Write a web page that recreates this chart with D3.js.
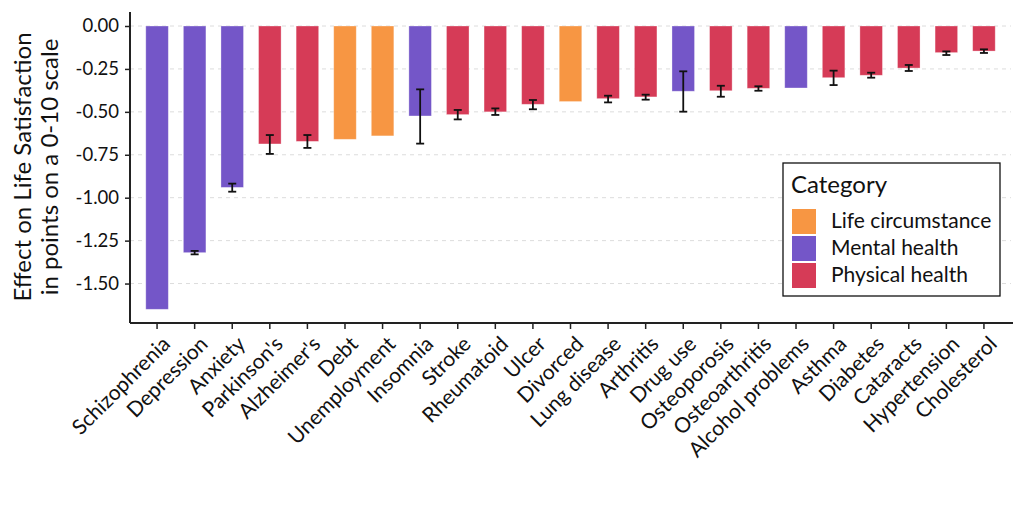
<html>
<head>
<meta charset="utf-8">
<script src="https://d3js.org/d3.v7.min.js"></script>
<style>
  body { margin: 0; background: white; }
  text { font-family: Lato, "Open Sans", sans-serif; fill: #111; }
</style>
</head>
<body>
<svg id="chart" width="1024" height="512"></svg>
<script>
var labels = ["Schizophrenia","Depression","Anxiety","Parkinson's","Alzheimer's","Debt","Unemployment","Insomnia","Stroke","Rheumatoid","Ulcer","Divorced","Lung disease","Arthritis","Drug use","Osteoporosis","Osteoarthritis","Alcohol problems","Asthma","Diabetes","Cataracts","Hypertension","Cholesterol"];
var categories = ["Mental health","Mental health","Mental health","Physical health","Physical health","Life circumstance","Life circumstance","Mental health","Physical health","Physical health","Physical health","Life circumstance","Physical health","Physical health","Mental health","Physical health","Physical health","Mental health","Physical health","Physical health","Physical health","Physical health","Physical health"];
var effects = [-1.65,-1.32,-0.94,-0.687,-0.672,-0.66,-0.64,-0.524,-0.516,-0.50,-0.456,-0.44,-0.423,-0.413,-0.38,-0.377,-0.363,-0.361,-0.301,-0.287,-0.245,-0.155,-0.146];
// error bar ends, null where the chart shows none
var errLow = [null,-1.33,-0.965,-0.745,-0.71,null,null,-0.685,-0.544,-0.518,-0.485,null,-0.445,-0.429,-0.499,-0.412,-0.377,null,-0.344,-0.301,-0.262,-0.169,-0.157];
var errHigh = [null,-1.31,-0.918,-0.635,-0.635,null,null,-0.369,-0.489,-0.48,-0.431,null,-0.406,-0.40,-0.264,-0.348,-0.351,null,-0.26,-0.272,-0.227,-0.148,-0.136];
var legendNames = ["Life circumstance","Mental health","Physical health"];
var legendColors = ["#F79643","#7456C8","#D63B57"];
var yTicks = [0,-0.25,-0.5,-0.75,-1.0,-1.25,-1.5];

var mLeft = 130, mRight = 1011, mTop = 26, mBottom = 323;

var svg = d3.select("#chart");

var data = labels.map(function(d,i) {
  return {name: d, cat: categories[i], v: effects[i], lo: errLow[i], hi: errHigh[i]};
});

var x = d3.scaleBand().domain(labels).range([mLeft, mRight]).paddingInner(0.4).paddingOuter(0.42);
var y = d3.scaleLinear().domain([0, -1.65]).range([mTop, mTop + 1.65*171.7]);
var color = d3.scaleOrdinal().domain(legendNames).range(legendColors);

var fmt = function(d) { return d3.format(".2f")(d).replace("\u2212", "-").replace("-0.00", "0.00"); };

// grid
svg.append("g").selectAll("line")
  .data(yTicks)
  .enter().append("line")
  .attr("x1", mLeft).attr("x2", mRight)
  .attr("y1", function(d) { return y(d); })
  .attr("y2", function(d) { return y(d); })
  .attr("stroke", "#dcdcdc")
  .attr("stroke-width", 1)
  .attr("stroke-dasharray", "4,4");

// bars
svg.append("g").selectAll("rect")
  .data(data)
  .enter().append("rect")
  .attr("x", function(d) { return x(d.name); })
  .attr("y", y(0))
  .attr("width", x.bandwidth())
  .attr("height", function(d) { return y(d.v) - y(0); })
  .attr("fill", function(d) { return color(d.cat); })
  .attr("stroke", "white").attr("stroke-opacity", 0.4).attr("stroke-width", 0.8);

// error bars
var eb = svg.append("g").selectAll("g")
  .data(data.filter(function(d) { return d.lo !== null; }))
  .enter().append("g")
  .attr("stroke", "#111").attr("stroke-width", 1.8);
eb.append("line")
  .attr("x1", function(d) { return x(d.name) + x.bandwidth()/2; })
  .attr("x2", function(d) { return x(d.name) + x.bandwidth()/2; })
  .attr("y1", function(d) { return y(d.lo); })
  .attr("y2", function(d) { return y(d.hi); });
[ "lo", "hi" ].forEach(function(k) {
  eb.append("line")
    .attr("x1", function(d) { return x(d.name) + x.bandwidth()/2 - 4; })
    .attr("x2", function(d) { return x(d.name) + x.bandwidth()/2 + 4; })
    .attr("y1", function(d) { return y(d[k]); })
    .attr("y2", function(d) { return y(d[k]); });
});

// axes
var yAxis = svg.append("g")
  .attr("transform", "translate(" + mLeft + ",0)")
  .call(d3.axisLeft(y).tickValues(yTicks).tickFormat(fmt).tickSize(5).tickSizeOuter(0));
yAxis.select(".domain").attr("d", "M0," + (mTop - 14) + "V" + mBottom).attr("stroke", "#222").attr("stroke-width", 2);
yAxis.selectAll(".tick line").attr("stroke", "#222").attr("stroke-width", 1.5);
yAxis.selectAll("text").attr("font-size", 18.5).attr("x", -11);

var xAxis = svg.append("g")
  .attr("transform", "translate(0," + mBottom + ")")
  .call(d3.axisBottom(x).tickSize(6).tickSizeOuter(0));
xAxis.select(".domain").attr("d", "M" + mLeft + ",0H" + (mRight + 2)).attr("stroke", "#222").attr("stroke-width", 2);
xAxis.selectAll(".tick line").attr("stroke", "#222").attr("stroke-width", 1.5);
xAxis.selectAll("text")
  .attr("font-size", 21)
  .attr("text-anchor", "end")
  .attr("dy", 0)
  .attr("transform", "translate(8,16) rotate(-45)");

// y title
var yt = svg.append("text")
  .attr("transform", "translate(31,167) rotate(-90)")
  .attr("text-anchor", "middle")
  .attr("font-size", 24);
yt.append("tspan").attr("x", 0).attr("dy", 0).text("Effect on Life Satisfaction");
yt.append("tspan").attr("x", 0).attr("dy", 27).text("in points on a 0-10 scale");

// legend
var lg = svg.append("g").attr("transform", "translate(783,163)");
lg.append("rect").attr("width", 217).attr("height", 133)
  .attr("fill", "white").attr("stroke", "#111").attr("stroke-width", 1.3);
lg.append("text").attr("x", 8).attr("y", 30).attr("font-size", 24).text("Category");
var items = lg.selectAll("g.item").data(legendNames).enter().append("g")
  .attr("transform", function(d,i) { return "translate(9," + (46 + i*27) + ")"; });
items.append("rect").attr("width", 24).attr("height", 25)
  .attr("fill", function(d) { return color(d); });
items.append("text").attr("x", 39).attr("y", 19).attr("font-size", 21).text(function(d) { return d; });
</script>
</body>
</html>
